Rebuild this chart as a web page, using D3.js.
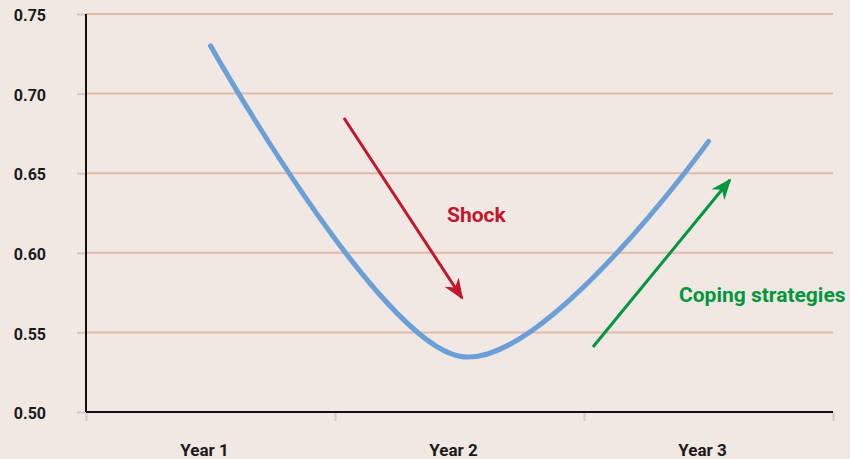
<!DOCTYPE html>
<html><head><meta charset="utf-8">
<script src="https://cdn.jsdelivr.net/npm/d3@7"></script>
<style>
html,body{margin:0;padding:0;background:#f2e8e3;}
svg{display:block;font-family:Roboto,"DejaVu Sans",sans-serif;}
</style></head>
<body>
<svg id="chart" width="850" height="459"></svg>
<script>
const categories = ["Year 1", "Year 2", "Year 3"];
const values = [0.73, 0.535, 0.67];
const yTicks = [0.50, 0.55, 0.60, 0.65, 0.70, 0.75];
// annotations in data space: x in category units (0..3), y in value units
const shockArrow = [[1.036, 0.6847], [1.51, 0.5716]];
const copingArrow = [[2.036, 0.5408], [2.586, 0.6457]];
const shockLabel = {text: "Shock", x: 1.45, y: 0.6193};
const copingLabel = {text: "Coping strategies", x: 2.3815, y: 0.5691};

const W = 850, H = 459;
const m = {left: 86, right: 17, top: 14, bottom: 47};
const svg = d3.select("#chart");
const x = d3.scaleLinear().domain([0, 3]).range([m.left, W - m.right]);
const y = d3.scaleLinear().domain([0.50, 0.75]).range([H - m.bottom, m.top]);

// gridlines
svg.append("g").selectAll("line").data(yTicks.filter(d => d > 0.5)).join("line")
  .attr("x1", x(0)).attr("x2", x(3))
  .attr("y1", d => y(d)).attr("y2", d => y(d))
  .attr("stroke", "#e2baaa").attr("stroke-width", 2);

// y axis
const yAxis = svg.append("g").attr("transform", `translate(${x(0)},0)`)
  .call(d3.axisLeft(y).tickValues(yTicks).tickFormat(d3.format(".2f")).tickSize(9).tickPadding(31));
yAxis.select(".domain").remove();
yAxis.selectAll(".tick line").attr("stroke", "#cccccc").attr("stroke-width", 2);
yAxis.selectAll(".tick text").attr("font-size", 16).attr("font-weight", "bold").attr("fill", "#1a1a1a")
  .attr("dy", "0.42em").attr("font-family", "Roboto, sans-serif");
svg.append("line").attr("x1", x(0)).attr("x2", x(0)).attr("y1", y(0.75)).attr("y2", y(0.5))
  .attr("stroke", "#111").attr("stroke-width", 2);

// x axis
const xAxis = svg.append("g").attr("transform", `translate(0,${y(0.5)})`)
  .call(d3.axisBottom(x).tickValues([0, 1, 2, 3]).tickFormat("").tickSize(9));
xAxis.select(".domain").remove();
xAxis.selectAll(".tick line").attr("stroke", "#cccccc").attr("stroke-width", 2);
svg.append("line").attr("x1", x(0)).attr("x2", x(3)).attr("y1", y(0.5)).attr("y2", y(0.5))
  .attr("stroke", "#111").attr("stroke-width", 2);
svg.append("g").selectAll("text").data(categories).join("text")
  .attr("x", (d, i) => x(i + 0.5)).attr("dx", -6).attr("y", 456)
  .attr("text-anchor", "middle").attr("font-size", 17).attr("font-weight", "bold").attr("fill", "#1a1a1a")
  .text(d => d);

// line
const line = d3.line().x((d, i) => x(i + 0.5)).y(d => y(d)).curve(d3.curveCatmullRom.alpha(0));
svg.append("path").datum(values).attr("d", line)
  .attr("fill", "none").attr("stroke", "#6a9fd8").attr("stroke-width", 5).attr("stroke-linecap", "round");

// arrows
const defs = svg.append("defs");
function marker(id, color) {
  defs.append("marker").attr("id", id).attr("viewBox", "0 0 10 10").attr("refX", 9).attr("refY", 5)
    .attr("markerWidth", 7).attr("markerHeight", 7).attr("markerUnits", "strokeWidth").attr("orient", "auto")
    .append("path").attr("d", "M0,1 L10,5 L0,9 L3,5 Z").attr("fill", color);
}
marker("redHead", "#c3162c");
marker("greenHead", "#00973d");
function arrow(pts, color, id) {
  svg.append("line")
    .attr("x1", x(pts[0][0])).attr("y1", y(pts[0][1]))
    .attr("x2", x(pts[1][0])).attr("y2", y(pts[1][1]))
    .attr("stroke", color).attr("stroke-width", 3).attr("marker-end", `url(#${id})`);
}
arrow(shockArrow, "#c3162c", "redHead");
arrow(copingArrow, "#00973d", "greenHead");

svg.append("text").attr("x", x(shockLabel.x)).attr("y", y(shockLabel.y))
  .attr("font-size", 21).attr("font-weight", "bold").attr("fill", "#c3162c").text(shockLabel.text);
svg.append("text").attr("x", x(copingLabel.x)).attr("y", y(copingLabel.y))
  .attr("font-size", 21).attr("font-weight", "bold").attr("fill", "#00973d").text(copingLabel.text);
</script>
</body></html>
